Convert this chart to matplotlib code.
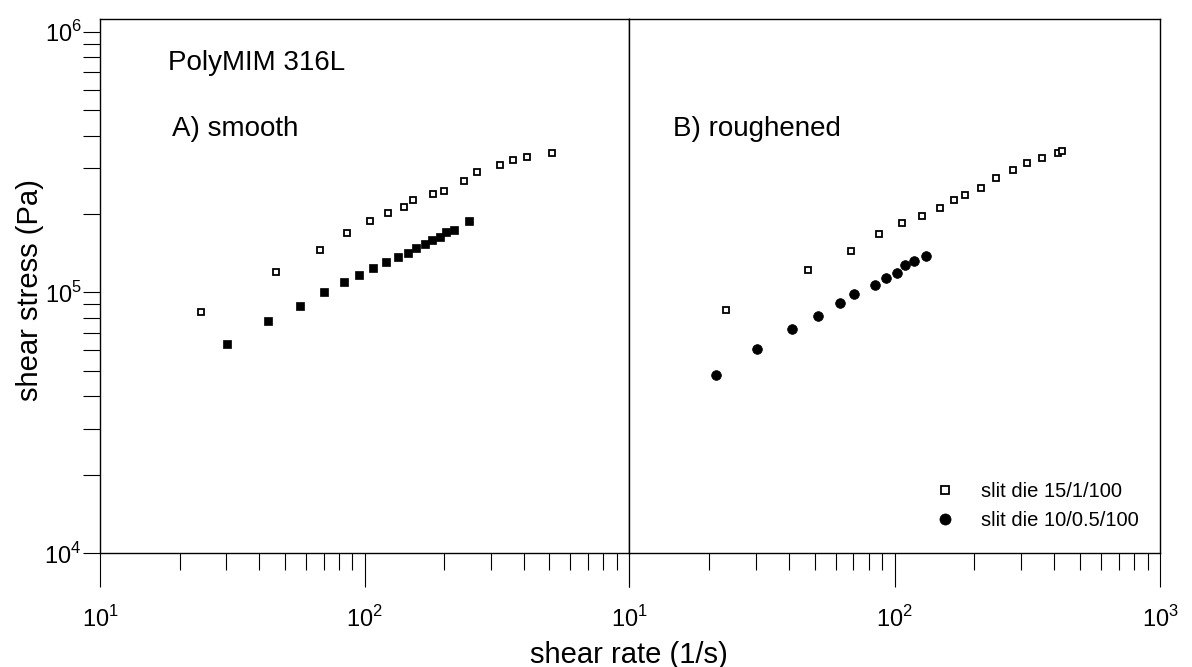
import matplotlib
matplotlib.use("Agg")
import matplotlib.pyplot as plt
from matplotlib.ticker import FixedLocator, FixedFormatter, LogLocator, NullFormatter
from matplotlib.lines import Line2D

plt.rcParams['font.family'] = ['Liberation Sans', 'DejaVu Sans']
plt.rcParams['mathtext.fontset'] = 'custom'
plt.rcParams['mathtext.rm'] = 'Liberation Sans'

# A) smooth die wall
smooth_open_x = [24, 46.2, 67.9, 85.7, 105, 123, 141, 153, 182, 200, 237, 266, 325, 363, 412, 510]
smooth_open_y = [84400, 120200, 145500, 168600, 188000, 201000, 212000, 226000, 238000, 245600,
                 268500, 291000, 308000, 323000, 332000, 342000]
smooth_fill_x = [30.3, 43.3, 57.1, 70.5, 83.9, 95.4, 108, 121, 134, 146, 157, 169, 180, 193, 204, 218, 249]
smooth_fill_y = [63400, 77800, 88700, 100200, 109400, 116200, 124000, 130600, 136500, 141500,
                 148500, 153500, 159000, 163700, 169800, 173800, 188000]

# B) roughened die wall
rough_open_x = [23.2, 47.3, 68.4, 87.7, 107, 127, 148, 168, 185, 212, 241, 280, 315, 359, 414, 426]
rough_open_y = [85700, 122000, 144600, 167000, 184600, 197000, 210500, 226000, 235600, 252600,
                274000, 295000, 313000, 327000, 342000, 349000]
rough_fill_x = [21.2, 30.3, 41.2, 51.3, 62.2, 70.3, 84.3, 92.9, 102, 110, 118, 131.5]
rough_fill_y = [48200, 60500, 72300, 81500, 90900, 98700, 107000, 113300, 119100, 127600, 132500, 138000]

label_open = "slit die 15/1/100"
label_fill = "slit die 10/0.5/100"

W, H = 1192, 667
fig = plt.figure(figsize=(W / 100, H / 100), dpi=100)
bottom = (H - 553) / H
height = (553 - 19) / H
ax1 = fig.add_axes([100 / W, bottom, 529 / W, height])
ax2 = fig.add_axes([629 / W, bottom, 531 / W, height], sharey=ax1)

for ax in (ax1, ax2):
    ax.set_xscale('log')
    ax.set_yscale('log')
    ax.set_xlim(10, 1000)
    ax.set_ylim(1e4, 1.12e6)
    for s in ax.spines.values():
        s.set_linewidth(1.0)
    ax.xaxis.set_major_locator(FixedLocator([10, 100, 1000]))
    ax.xaxis.set_minor_locator(LogLocator(base=10, subs=range(2, 10)))
    ax.xaxis.set_minor_formatter(NullFormatter())
    ax.tick_params(axis='x', which='major', direction='out', length=24.5, width=0.8,
                   labelsize=17, pad=14)
    ax.tick_params(axis='x', which='minor', direction='out', length=12.2, width=0.8)

ax1.xaxis.set_major_formatter(FixedFormatter([r'$10^{1}$', r'$10^{2}$', '']))
ax2.xaxis.set_major_formatter(FixedFormatter([r'$10^{1}$', r'$10^{2}$', r'$10^{3}$']))

ax1.yaxis.set_major_locator(FixedLocator([1e4, 1e5, 1e6]))
ax1.yaxis.set_major_formatter(FixedFormatter([r'$10^{4}$', r'$10^{5}$', r'$10^{6}$']))
ax1.yaxis.set_minor_locator(LogLocator(base=10, subs=range(2, 10)))
ax1.yaxis.set_minor_formatter(NullFormatter())
ax1.tick_params(axis='y', which='both', direction='out', length=12.2, width=0.8,
                labelsize=17, pad=1)
ax2.tick_params(axis='y', which='both', left=False, labelleft=False)

# data
ax1.plot(smooth_open_x, smooth_open_y, ls='none', marker='s', ms=4.5, mfc='white', mec='black', mew=1.3)
ax1.plot(smooth_fill_x, smooth_fill_y, ls='none', marker='s', ms=5.2, mfc='black', mec='black', mew=0.5)
ax2.plot(rough_open_x, rough_open_y, ls='none', marker='s', ms=4.2, mfc='white', mec='black', mew=1.3)
ax2.plot(rough_fill_x, rough_fill_y, ls='none', marker='o', ms=7, mfc='black', mec='black', mew=0.5)

ax1.text(0.128, 0.905, "PolyMIM 316L", transform=ax1.transAxes, fontsize=20, va='baseline')
ax1.text(0.136, 0.78, "A) smooth", transform=ax1.transAxes, fontsize=20, va='baseline')
ax2.text(0.083, 0.78, "B) roughened", transform=ax2.transAxes, fontsize=20, va='baseline')

handles = [
    Line2D([], [], ls='none', marker='s', ms=5.5, mfc='white', mec='black', mew=1.3, label=label_open),
    Line2D([], [], ls='none', marker='o', ms=8, mfc='black', mec='black', mew=0.5, label=label_fill),
]
ax2.legend(handles=handles, loc='upper left', frameon=False, fontsize=14.5,
           bbox_to_anchor=(935 / W, (H - 482) / H), bbox_transform=fig.transFigure,
           borderpad=0, borderaxespad=0, handlelength=1.0, handletextpad=1.3,
           labelspacing=0.5)

fig.text(629 / W, (H - 655) / H, "shear rate (1/s)", ha='center', va='center', fontsize=21)
fig.text(30 / W, (H - 290) / H, "shear stress (Pa)", ha='center', va='center', fontsize=21,
         rotation=90)

fig.savefig("out.png", dpi=100)
